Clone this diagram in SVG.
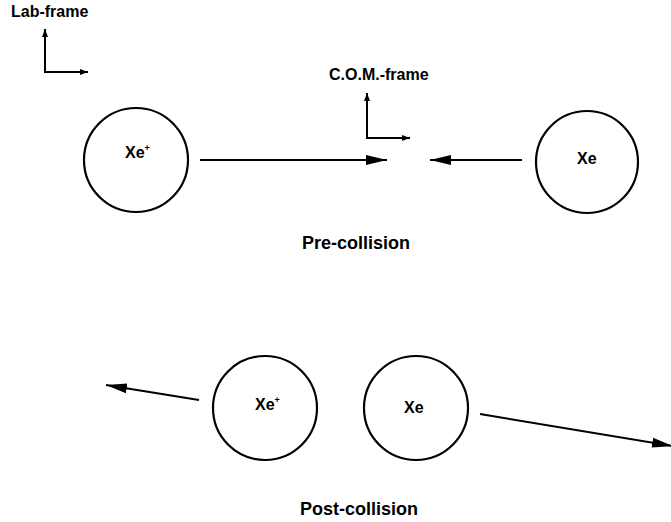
<svg xmlns="http://www.w3.org/2000/svg" width="671" height="522" viewBox="0 0 671 522">
  <defs>
    <marker id="arrow" markerUnits="userSpaceOnUse" markerWidth="22" markerHeight="12" refX="21" refY="6" orient="auto">
      <path d="M0,1 L21,6 L0,11 Z" fill="#000"/>
    </marker>
    <marker id="axisArrow" markerUnits="userSpaceOnUse" markerWidth="10" markerHeight="8" refX="8" refY="4" orient="auto">
      <path d="M0,1 L8,4 L0,7 Z" fill="#000"/>
    </marker>
  </defs>
  <style>
    .label { font-family: "Liberation Sans", Arial, sans-serif; font-weight: bold; fill: #000; }
    .title { font-size: 18px; }
    .frame { font-size: 16px; }
    .atom { font-size: 16px; }
    .sup { font-size: 9px; }
    .ball { fill: #fff; stroke: #000; stroke-width: 2.2; }
    .line { stroke: #000; stroke-width: 2; fill: none; }
    .axis { stroke: #000; stroke-width: 2; fill: none; }
  </style>

  <!-- reference frames -->
  <g id="lab-frame">
    <text class="label frame" x="11" y="17">Lab-frame</text>
    <path class="axis" d="M45,73 L45,29" marker-end="url(#axisArrow)"/>
    <path class="axis" d="M44,72 L88,72" marker-end="url(#axisArrow)"/>
  </g>
  <g id="com-frame">
    <text class="label frame" x="329" y="80">C.O.M.-frame</text>
    <path class="axis" d="M367,139 L367,93" marker-end="url(#axisArrow)"/>
    <path class="axis" d="M366,138 L410,138" marker-end="url(#axisArrow)"/>
  </g>

  <!-- pre-collision particles -->
  <g id="pre-xe-ion">
    <circle class="ball" cx="136" cy="160" r="52"/>
    <text class="label atom" x="125" y="158">Xe<tspan class="sup" dy="-7">+</tspan></text>
  </g>
  <g id="pre-xe">
    <circle class="ball" cx="587" cy="162" r="51"/>
    <text class="label atom" x="577" y="164">Xe</text>
  </g>

  <!-- post-collision particles -->
  <g id="post-xe-ion">
    <circle class="ball" cx="265" cy="408" r="52"/>
    <text class="label atom" x="255" y="410">Xe<tspan class="sup" dy="-7">+</tspan></text>
  </g>
  <g id="post-xe">
    <circle class="ball" cx="416" cy="408" r="52"/>
    <text class="label atom" x="404" y="413">Xe</text>
  </g>

  <!-- velocity vectors -->
  <g id="connectors">
    <path class="line" d="M200,160 L387,160" marker-end="url(#arrow)"/>
    <path class="line" d="M522,160 L430,160" marker-end="url(#arrow)"/>
    <path class="line" d="M199,400 L106,385" marker-end="url(#arrow)"/>
    <path class="line" d="M480,414 L673,446" marker-end="url(#arrow)"/>
  </g>

  <!-- captions -->
  <g id="captions">
    <text class="label title" x="302" y="249">Pre-collision</text>
    <text class="label title" x="300" y="515">Post-collision</text>
  </g>
</svg>
